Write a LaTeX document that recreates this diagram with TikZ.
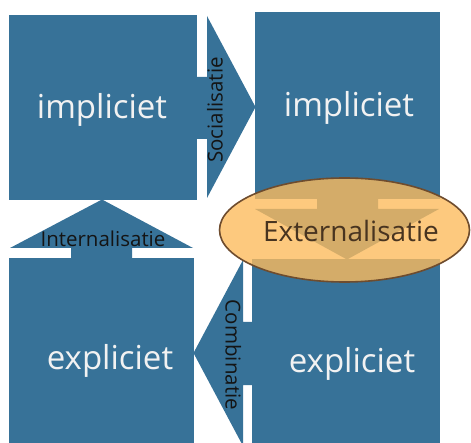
\documentclass[tikz,border=0pt]{standalone}
\usepackage{fontspec}
\setmainfont{Open Sans}
\usetikzlibrary{shapes.geometric}
\definecolor{boxblue}{RGB}{55,114,152}
\definecolor{ellfill}{RGB}{252,187,94}
\definecolor{elldraw}{RGB}{110,76,46}
\definecolor{elltext}{RGB}{72,52,32}
\definecolor{maintext}{RGB}{242,242,242}
\definecolor{labtext}{RGB}{20,20,20}
\tikzset{
  box/.style={fill=boxblue, draw=none},
  blockarrow/.style={fill=boxblue, draw=none},
  bigtext/.style={text=maintext, anchor=base, inner sep=0pt, font=\fontsize{33}{36}\selectfont},
  labeltext/.style={text=labtext, anchor=base, inner sep=0pt, font=\fontsize{20.5}{24}\selectfont},
  extell/.style={ellipse, fill=ellfill, fill opacity=0.8, draw=elldraw, line width=1.6pt, inner sep=0pt},
}
\begin{document}
\begin{tikzpicture}[x=1pt,y=-1pt]
\useasboundingbox (0,0) rectangle (471,443);
\clip (0,0) rectangle (471,443);
% boxes
\path[box] (9,15) rectangle (197,200) coordinate (tlbr);
\coordinate (tl) at (103,107.5);
\path[box] (255,12) rectangle (440,199);
\coordinate (tr) at (347.5,105.5);
\path[box] (9,258) rectangle (194,465);
\coordinate (bl) at (101.5,361);
\path[box] (252,259) rectangle (440,465);
\coordinate (br) at (346,362);
% Socialisatie arrow (tl -> tr)
\path[blockarrow] (196,77) -- (207,77) -- (207,16) -- (255.5,107) -- (207,198) -- (207,139) -- (196,139) -- cycle;
% Internalisatie arrow (bl -> tl)
\path[blockarrow] (71,258.5) -- (71,248) -- (10,248) -- (102,199.5) -- (193,248) -- (132,248) -- (132,258.5) -- cycle;
% Combinatie arrow (br -> bl)
\path[blockarrow] (252.5,322) -- (243,322) -- (243,260) -- (193.5,353) -- (243,446) -- (243,385) -- (252.5,385) -- cycle;
% Externalisatie arrow (tr -> br)
\path[blockarrow] (317,198.5) -- (317,209) -- (255,209) -- (347,259.5) -- (439,209) -- (378,209) -- (378,198.5) -- cycle;
% box texts
\node[bigtext] (tlt) at (102,119) {impliciet};
\node[bigtext] (trt) at (349,117) {impliciet};
\node[bigtext] (blt) at (110,370) {expliciet};
\node[bigtext] (brt) at (352,373) {expliciet};
% arrow labels
\node[labeltext, rotate=90] (soc) at (222.5,110) {Socialisatie};
\node[labeltext] (int) at (103,247) {Internalisatie};
\node[labeltext, rotate=-90] (com) at (225.5,355) {Combinatie};
% Externalisatie ellipse
\node[extell, minimum width=250, minimum height=104] (ext) at (344.5,230) {};
\node[anchor=base, inner sep=0pt, text=elltext, font=\fontsize{28}{32}\selectfont] (extt) at (351,242) {Externalisatie};
\end{tikzpicture}
\end{document}
